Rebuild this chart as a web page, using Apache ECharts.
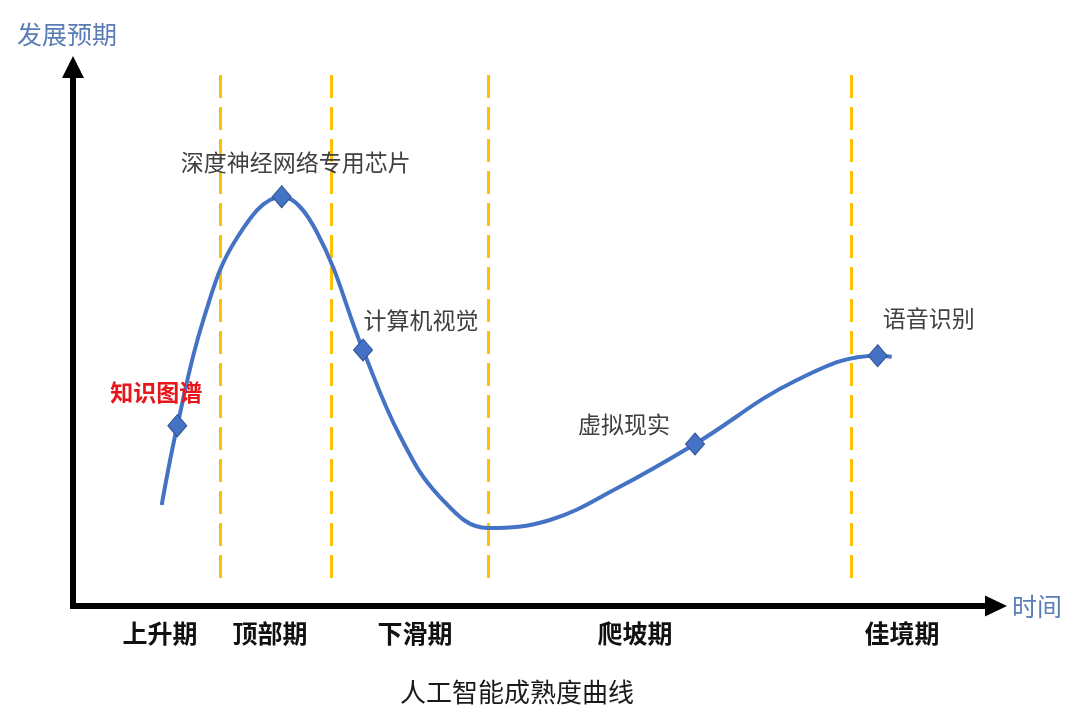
<!DOCTYPE html>
<html><head><meta charset="utf-8">
<script src="https://cdn.jsdelivr.net/npm/echarts@6/dist/echarts.min.js"></script>
<style>html,body{margin:0;padding:0;background:#fff}#c{width:1080px;height:710px}</style>
</head><body><div id="c"></div>
<script>
// Curve (time, expectation) in 0..100 units
const curveX = [9.61, 11.30, 14.12, 17.74, 22.61, 26.40, 31.42, 35.43, 39.76, 44.96, 51.68, 58.94, 67.39, 78.44, 87.18, 88.70];
const curveY = [18.74, 33.45, 53.06, 68.22, 75.94, 69.44, 47.50, 31.54, 20.22, 14.47, 15.96, 21.84, 30.06, 41.93, 46.44, 46.25];
// Highlighted technologies
const markerNames = ['知识图谱', '深度神经网络专用芯片', '计算机视觉', '虚拟现实', '语音识别'];
const markerX = [11.30, 22.61, 31.42, 67.39, 87.18];
const markerY = [33.45, 75.94, 47.50, 30.06, 46.44];
// Phases
const phaseNames = ['上升期', '顶部期', '下滑期', '爬坡期', '佳境期'];
const phaseX = [9.43, 21.34, 37.05, 60.89, 89.82];
// Phase dividers
const dividerX = [15.93, 27.95, 44.96, 84.29];
const dividerTop = 98.5, dividerBottom = 4.27;

const FONT = '"Noto Sans CJK SC", "Noto Sans", sans-serif';
const labelOffsets = [[-21, -33], [14, -34], [58, -30], [-71, -20], [51, -37]];

const chart = echarts.init(document.getElementById('c'), null, {renderer: 'canvas'});
chart.setOption({
  animation: false,
  backgroundColor: '#ffffff',
  title: {
    text: '人工智能成熟度曲线',
    left: 395, top: 674,
    textStyle: {fontFamily: FONT, fontSize: 26, fontWeight: 'normal', color: '#1a1a1a'}
  },
  grid: {left: 73, right: 84, top: 67, bottom: 104, containLabel: false, outerBoundsMode: 'none'},
  xAxis: {
    type: 'value', min: 0, max: 100,
    name: '时间', nameLocation: 'end', nameGap: 16,
    nameTextStyle: {fontFamily: FONT, fontSize: 25, color: '#5B7DB6', padding: [10, 0, 0, 0]},
    axisLine: {show: true, symbol: ['none', 'triangle'], symbolSize: [21, 22],
      lineStyle: {color: '#000', width: 6, cap: 'square'}},
    axisTick: {show: false},
    splitLine: {show: false},
    axisLabel: {
      show: true, customValues: phaseX, margin: 15,
      fontFamily: FONT, fontSize: 25, fontWeight: 'bold', color: '#111',
      formatter: function (v) {
        let best = 0;
        for (let i = 1; i < phaseX.length; i++) if (Math.abs(phaseX[i] - v) < Math.abs(phaseX[best] - v)) best = i;
        return phaseNames[best];
      }
    }
  },
  yAxis: {
    type: 'value', min: 0, max: 100,
    name: '发展预期', nameLocation: 'end', nameGap: 20,
    nameTextStyle: {fontFamily: FONT, fontSize: 25, color: '#5B7DB6', padding: [0, 12, 0, 0]},
    axisLine: {show: true, symbol: ['none', 'triangle'], symbolSize: [22, 22],
      lineStyle: {color: '#000', width: 6, cap: 'square'}},
    axisTick: {show: false},
    splitLine: {show: false},
    axisLabel: {show: false}
  },
  series: [
    {
      type: 'line',
      data: curveX.map((x, i) => [x, curveY[i]]),
      smooth: 0.4,
      showSymbol: false,
      symbol: 'none',
      lineStyle: {color: '#4472C4', width: 4},
      z: 3,
      markLine: {
        silent: true,
        symbol: ['none', 'none'],
        label: {show: false},
        lineStyle: {color: '#FFC000', width: 3, type: [23, 9]},
        data: dividerX.map(x => [{coord: [x, dividerTop]}, {coord: [x, dividerBottom]}]),
        z: 2
      }
    },
    {
      type: 'scatter',
      data: markerX.map((x, i) => ({
        value: [x, markerY[i]],
        name: markerNames[i],
        label: {
          offset: labelOffsets[i],
          color: i === 0 ? '#E8161B' : '#404040',
          fontWeight: i === 0 ? 'bold' : 'normal'
        }
      })),
      symbol: 'diamond',
      symbolSize: [19, 22],
      itemStyle: {color: '#4472C4', borderColor: '#2F528F', borderWidth: 1, opacity: 1},
      label: {
        show: true, position: 'inside',
        formatter: p => p.name,
        fontFamily: FONT, fontSize: 23
      },
      z: 5
    }
  ]
});
</script></body></html>
